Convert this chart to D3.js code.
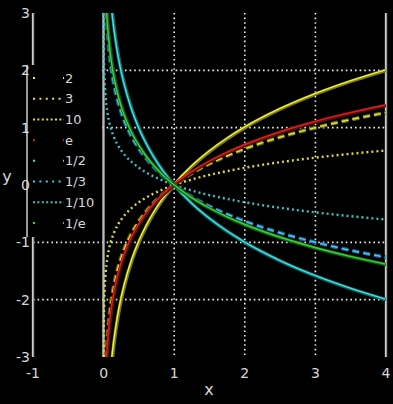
<!DOCTYPE html>
<html>
<head>
<meta charset="utf-8">
<script src="https://cdn.jsdelivr.net/npm/d3@7"></script>
<style>
  html, body { margin: 0; padding: 0; background: #000; }
  text { font-family: "DejaVu Sans", sans-serif; fill: #d8d8d8; }
</style>
</head>
<body>
<div id="vis"></div>
<script>
var width = 393,
    height = 404;

// bases of the logarithm curves, and their legend labels
var bases = [2, 3, 10, Math.E, 1 / 2, 1 / 3, 1 / 10, 1 / Math.E];
var baseLabels = ["2", "3", "10", "e", "1/2", "1/3", "1/10", "1/e"];
// sample points along x
var xs = [0.001, 0.0015, 0.002, 0.003, 0.005, 0.0075, 0.01, 0.015, 0.02, 0.03, 0.04, 0.05, 0.065,
          0.08, 0.1, 0.125, 0.15, 0.2, 0.25, 0.3, 0.4, 0.5, 0.6, 0.7, 0.8, 0.9, 1,
          1.25, 1.5, 1.75, 2, 2.5, 3, 3.5, 4];
var xTicks = [-1, 0, 1, 2, 3, 4];
var yTicks = [-3, -2, -1, 0, 1, 2, 3];
var xGrid = [1, 2, 3];
var yGrid = [-2, -1, 1, 2];

// look of each curve: kind, core colour, edge colour
var styles = [
  { kind: "solid",  core: "#f2f240", edge: "#7d7d12", legend: "2,28" },
  { kind: "dashed", core: "#e4e43c", edge: "#6f6f10", legend: "2,4.4" },
  { kind: "dotted", core: "#dada34", edge: null,      legend: "2,2.4" },
  { kind: "solid",  core: "#d82222", edge: "#6a0c0c", legend: "2,28" },
  { kind: "solid",  core: "#44e4e4", edge: "#0f6a6a", legend: "2,28" },
  { kind: "dashed", core: "#48cce8", edge: "#1d5a9a", legend: "2,4.4" },
  { kind: "dotted", core: "#34c4c4", edge: null,      legend: "2,2.4" },
  { kind: "solid",  core: "#3ed23e", edge: "#0f620f", legend: "2,28" }
];

var svg = d3.select("#vis").append("svg")
    .attr("width", width)
    .attr("height", height);

svg.append("rect").attr("width", width).attr("height", height).attr("fill", "#000");

var x = d3.scaleLinear().domain([-1, 4]).range([33, 386]);
var y = d3.scaleLinear().domain([-3, 3]).range([357, 13]);

svg.append("clipPath").attr("id", "plotclip")
  .append("rect")
    .attr("x", x(-1)).attr("y", y(3))
    .attr("width", x(4) - x(-1)).attr("height", y(-3) - y(3));

// dotted grid
svg.selectAll("line.vgrid")
    .data(xGrid).enter().append("line")
    .attr("class", "vgrid")
    .attr("x1", d => x(d)).attr("x2", d => x(d))
    .attr("y1", y(3)).attr("y2", y(-3))
    .attr("stroke", "#ececec").attr("stroke-width", 1.6)
    .attr("stroke-dasharray", "1.6,3");

svg.selectAll("line.hgrid")
    .data(yGrid).enter().append("line")
    .attr("class", "hgrid")
    .attr("x1", x(-1)).attr("x2", x(4))
    .attr("y1", d => y(d)).attr("y2", d => y(d))
    .attr("stroke", "#ececec").attr("stroke-width", 1.6)
    .attr("stroke-dasharray", "1.6,3");

// axis lines
[-1, 0, 4].forEach(function(v) {
  svg.append("line")
    .attr("x1", x(v)).attr("x2", x(v))
    .attr("y1", y(3)).attr("y2", y(-3))
    .attr("stroke", "#9a9a9a").attr("stroke-width", 2.4);
  svg.append("line")
    .attr("x1", x(v) - 0.5).attr("x2", x(v) - 0.5)
    .attr("y1", y(3)).attr("y2", y(-3))
    .attr("stroke", "#dcdcdc").attr("stroke-width", 0.8);
});

// curves
var line = d3.line()
    .x(d => x(d[0]))
    .y(d => y(d[1]))
    .curve(d3.curveMonotoneX);

var curves = svg.append("g").attr("clip-path", "url(#plotclip)");

bases.forEach(function(b, i) {
  var pts = xs.map(function(v) { return [v, Math.log(v) / Math.log(b)]; });
  var s = styles[i];
  if (s.kind === "solid") {
    curves.append("path").attr("d", line(pts))
      .attr("fill", "none").attr("stroke", s.edge).attr("stroke-width", 3.6);
    curves.append("path").attr("d", line(pts))
      .attr("fill", "none").attr("stroke", s.core).attr("stroke-width", 1.4)
      .attr("transform", "translate(-0.5,-0.5)");
  } else if (s.kind === "dashed") {
    curves.append("path").attr("d", line(pts))
      .attr("fill", "none").attr("stroke", s.edge).attr("stroke-width", 3.8)
      .attr("stroke-dasharray", "7,4");
    curves.append("path").attr("d", line(pts))
      .attr("fill", "none").attr("stroke", s.core).attr("stroke-width", 1.5)
      .attr("stroke-dasharray", "7,4");
  } else {
    curves.append("path").attr("d", line(pts))
      .attr("fill", "none").attr("stroke", s.core).attr("stroke-width", 2.4)
      .attr("stroke-dasharray", "2,3");
  }
});

// legend box
var legend = svg.append("g");
legend.append("rect")
    .attr("x", 27).attr("y", 65).attr("width", 74).attr("height", 172)
    .attr("fill", "#000");
legend.append("line")
    .attr("x1", 27).attr("x2", 27).attr("y1", 65).attr("y2", 237)
    .attr("stroke", "#9a9a9a").attr("stroke-width", 2);

var ly = d3.scaleLinear().domain([0, 7]).range([78, 223]);

legend.selectAll("line.sample")
    .data(baseLabels).enter().append("line")
    .attr("class", "sample")
    .attr("x1", 33).attr("x2", 64)
    .attr("y1", (d, i) => ly(i)).attr("y2", (d, i) => ly(i))
    .attr("stroke", (d, i) => styles[i].core)
    .attr("stroke-width", 2)
    .attr("stroke-dasharray", (d, i) => styles[i].legend);

legend.selectAll("text.lab")
    .data(baseLabels).enter().append("text")
    .attr("class", "lab")
    .attr("x", 65)
    .attr("y", (d, i) => ly(i))
    .attr("dy", "0.35em")
    .style("font-size", "13px")
    .text(d => d);

// tick labels
svg.selectAll("text.ytick")
    .data(yTicks).enter().append("text")
    .attr("class", "ytick")
    .attr("x", 30)
    .attr("y", d => y(d))
    .attr("dy", "0.36em")
    .attr("text-anchor", "end")
    .style("font-size", "14px")
    .text(d => d);

svg.selectAll("text.xtick")
    .data(xTicks).enter().append("text")
    .attr("class", "xtick")
    .attr("x", d => x(d))
    .attr("y", 378)
    .attr("text-anchor", "middle")
    .style("font-size", "14px")
    .text(d => d);

svg.append("text").attr("x", 209).attr("y", 395)
    .attr("text-anchor", "middle").style("font-size", "16px").text("x");
svg.append("text").attr("x", 7).attr("y", 182)
    .attr("text-anchor", "middle").style("font-size", "16px").text("y");
</script>
</body>
</html>
